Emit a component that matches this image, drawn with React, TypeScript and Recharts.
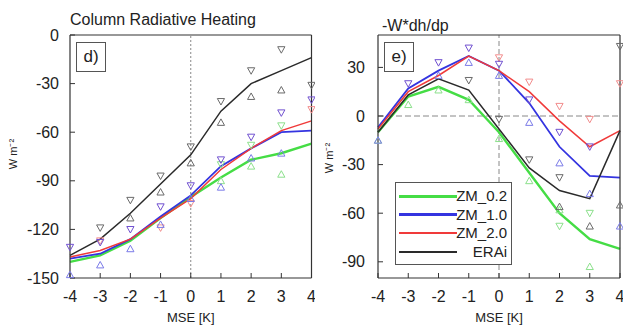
import React from "react"
import {
  LineChart,
  Line,
  XAxis,
  YAxis,
  ReferenceLine,
  Legend
} from "recharts"

// MSE anomaly bins
const mse = [-4, -3, -2, -1, 0, 1, 2, 3, 4]

// d) column radiative heating, W m-2
const radZm02 = [-140, -136, -127, -113, -100, -88, -77, -73, -67]
const radZm10 = [-138, -135, -126, -112, -99, -81, -70, -60, -59]
const radZm20 = [-137, -133, -126, -113, -101, -83, -70, -59, -53]
const radErai = [-136, -126, -110, -92, -74, -47, -30, -22, -14]

// d) spread markers (down / up triangles)
const radEraiDn = [null, -119, -102, -87, -69, -41, -22, -9, -31]
const radEraiUp = [null, null, -113, -97, -79, -54, -38, -34, null]
const radZm10Dn = [-131, -128, -120, -106, -93, -77, -63, -48, -40]
const radZm10Up = [-148, -142, -132, -117, -101, -94, -76, -73, null]
const radZm02Dn = [null, null, null, null, null, -80, -68, -56, null]
const radZm02Up = [null, null, null, null, null, -90, -81, -86, null]
const radZm20Dn = [null, -127, null, -119, -104, null, null, null, -46]

// e) -W*dh/dp, W m-2
const wZm02 = [-10, 12, 18, 10, -10, -35, -60, -76, -82]
const wZm10 = [-7, 17, 28, 37, 28, 8, -19, -37, -38]
const wZm20 = [-8, 15, 25, 37, 28, 15, -3, -19, -9]
const wErai = [-10, 13, 23, 16, -8, -32, -46, -51, -9]

const wEraiDn = [null, null, null, 22, -2, -27, -38, null, 43]
const wEraiUp = [null, null, null, null, null, null, -56, -68, -55]
const wZm10Dn = [null, 20, 33, 42, 32, 10, -10, -19, null]
const wZm10Up = [-15, null, 25, 33, 25, -4, -29, -48, -68]
const wZm20Dn = [null, null, null, null, 36, 21, 6, -2, 20]
const wZm02Dn = [null, null, null, null, null, null, -68, -60, null]
const wZm02Up = [-15, 7, 16, 10, -14, -40, -58, -93, null]

const radTicks = [-150, -120, -90, -60, -30, 0]
const wTicks = [-90, -60, -30, 0, 30]

const legendOrder = ["ZM_0.2", "ZM_1.0", "ZM_2.0", "ERAi"]

const FONT = '"Liberation Sans", Arial, sans-serif'
const INK = "#222"
const FRAME = "#333"

const GREEN = "#45dd45"
const BLUE = "#3434e0"
const RED = "#f03a3a"
const BLACK = "#2a2a2a"

const radRows = mse.map((m, i) => ({
  mse: m,
  zm02: radZm02[i], zm10: radZm10[i], zm20: radZm20[i], erai: radErai[i],
  eDn: radEraiDn[i], eUp: radEraiUp[i],
  bDn: radZm10Dn[i], bUp: radZm10Up[i],
  gDn: radZm02Dn[i], gUp: radZm02Up[i],
  rDn: radZm20Dn[i]
}))

const wRows = mse.map((m, i) => ({
  mse: m,
  zm02: wZm02[i], zm10: wZm10[i], zm20: wZm20[i], erai: wErai[i],
  eDn: wEraiDn[i], eUp: wEraiUp[i],
  bDn: wZm10Dn[i], bUp: wZm10Up[i],
  gDn: wZm02Dn[i], gUp: wZm02Up[i],
  rDn: wZm20Dn[i]
}))

function tri(color: string, down: boolean) {
  return (props: any) => {
    const { cx, cy, value, index } = props
    if (value == null || cx == null || cy == null || isNaN(cy)) return <g key={"t" + index} />
    const s = 3.6
    const d = down
      ? `M${cx - s},${cy - s * 0.8} L${cx + s},${cy - s * 0.8} L${cx},${cy + s} Z`
      : `M${cx - s},${cy + s * 0.8} L${cx + s},${cy + s * 0.8} L${cx},${cy - s} Z`
    return <path key={"t" + index} d={d} fill="none" stroke={color} strokeWidth={1} />
  }
}

function markers() {
  const m = [
    { k: "gDn", c: "#8be08b", d: true },
    { k: "gUp", c: "#8be08b", d: false },
    { k: "rDn", c: "#f28c8c", d: true },
    { k: "bDn", c: "#7050d0", d: true },
    { k: "bUp", c: "#7a7ae8", d: false },
    { k: "eDn", c: "#6a6a6a", d: true },
    { k: "eUp", c: "#6a6a6a", d: false }
  ]
  return m.map(x => (
    <Line
      key={x.k}
      dataKey={x.k}
      stroke="none"
      dot={tri(x.c, x.d)}
      activeDot={false}
      legendType="none"
      isAnimationActive={false}
    />
  ))
}

function series() {
  return [
    <Line key="g" name="ZM_0.2" dataKey="zm02" stroke={GREEN} strokeWidth={2.4} dot={false} isAnimationActive={false} />,
    <Line key="b" name="ZM_1.0" dataKey="zm10" stroke={BLUE} strokeWidth={1.8} dot={false} isAnimationActive={false} />,
    <Line key="r" name="ZM_2.0" dataKey="zm20" stroke={RED} strokeWidth={1.5} dot={false} isAnimationActive={false} />,
    <Line key="k" name="ERAi" dataKey="erai" stroke={BLACK} strokeWidth={1.5} dot={false} isAnimationActive={false} />
  ]
}

const legendWidths: Record<string, number> = { "ZM_0.2": 3, "ZM_1.0": 2.5, "ZM_2.0": 2, "ERAi": 2 }

function LegendBox(props: any) {
  const items = (props.payload || [])
    .filter((p: any) => p.type !== "none" && legendOrder.includes(p.value))
    .sort((a: any, b: any) => legendOrder.indexOf(a.value) - legendOrder.indexOf(b.value))
  return (
    <div style={{ width: 117, height: 83, boxSizing: "border-box", border: "1px solid #555", background: "#fff", paddingTop: 4, fontFamily: FONT }}>
      {items.map((p: any) => (
        <div key={p.value} style={{ height: 18.5, position: "relative" }}>
          <div style={{ position: "absolute", left: 3, width: 58, top: 9 - legendWidths[p.value] / 2, height: legendWidths[p.value], background: p.color }} />
          <div style={{ position: "absolute", right: 4, top: 0, lineHeight: "18.5px", fontSize: 15, color: INK }}>{p.value}</div>
        </div>
      ))}
    </div>
  )
}

const tickStyle = { fontSize: 16, fill: INK, fontFamily: FONT }

function Frame(domain: number[], yTicks: number[], yWidth: number, yMargin: number) {
  return [
    <XAxis key="xb" dataKey="mse" type="number" domain={[-4, 4]} ticks={mse} interval={0}
      height={47} tickSize={-5} tickMargin={18} tick={tickStyle}
      axisLine={{ stroke: FRAME, strokeWidth: 1.2 }} tickLine={{ stroke: FRAME }}
      label={{ value: "MSE [K]", position: "insideBottom", offset: 3, fontSize: 13, fill: INK, fontFamily: FONT }} />,
    <XAxis key="xt" xAxisId="top" orientation="top" dataKey="mse" type="number" domain={[-4, 4]} ticks={mse} interval={0}
      height={1} tickSize={-5} tick={false}
      axisLine={{ stroke: FRAME, strokeWidth: 1.2 }} tickLine={{ stroke: FRAME }} />,
    <YAxis key="yl" type="number" domain={domain} ticks={yTicks} interval={0}
      width={yWidth} tickSize={-5} tickMargin={yMargin} tick={tickStyle}
      axisLine={{ stroke: FRAME, strokeWidth: 1.2 }} tickLine={{ stroke: FRAME }} />,
    <YAxis key="yr" yAxisId="right" orientation="right" type="number" domain={domain} ticks={yTicks} interval={0}
      width={1} tickSize={-5} tick={false}
      axisLine={{ stroke: FRAME, strokeWidth: 1.2 }} tickLine={{ stroke: FRAME }} />
  ]
}

const box = (left: number, text: string) => (
  <div style={{ position: "absolute", left, top: 42, width: 30, height: 30, boxSizing: "border-box", border: "1px solid #555",
    fontFamily: FONT, fontSize: 17, color: INK, lineHeight: "28px", textAlign: "center" }}>{text}</div>
)

const unit = (cx: number, cy: number) => (
  <div style={{ position: "absolute", left: cx - 25, top: cy - 7, width: 50, height: 14, lineHeight: "14px", textAlign: "center",
    transform: "rotate(-90deg)", fontFamily: FONT, fontSize: 11, color: INK }}>W m⁻²</div>
)

export default function App() {
  return (
    <div style={{ position: "absolute", left: 0, top: 0, width: 623, height: 325, background: "#fff", overflow: "hidden" }}>
      <div style={{ position: "absolute", left: 70, top: 11.5, fontFamily: FONT, fontSize: 16, lineHeight: "16px", color: INK }}>
        Column Radiative Heating
      </div>
      <div style={{ position: "absolute", left: 382, top: 17.5, fontFamily: FONT, fontSize: 16, lineHeight: "16px", color: INK }}>
        -W*dh/dp
      </div>

      <div style={{ position: "absolute", left: 0, top: 0 }}>
        <LineChart width={315} height={325} data={radRows} margin={{ top: 34, right: 2.5, bottom: 0, left: 0 }}>
          {Frame([-150, 0], radTicks, 70, 16)}
          <ReferenceLine x={0} stroke="#888" strokeDasharray="2 2" />
          {markers()}
          {series()}
        </LineChart>
      </div>

      <div style={{ position: "absolute", left: 310, top: 0 }}>
        <LineChart width={313} height={325} data={wRows} margin={{ top: 34, right: 2, bottom: 0, left: 0 }}>
          {Frame([-100, 50], wTicks, 68, 18)}
          <ReferenceLine x={0} stroke="#888" strokeDasharray="5 3" />
          <ReferenceLine y={0} stroke="#888" strokeDasharray="6 3" />
          {markers()}
          {series()}
          <Legend layout="vertical" align="center" verticalAlign="middle" content={<LegendBox />}
            wrapperStyle={{ position: "absolute", left: 85, top: 182, width: 117, height: 83 }} />
        </LineChart>
      </div>

      {box(76, "d)")}
      {box(384, "e)")}
      {unit(13, 154)}
      {unit(329, 158)}
    </div>
  )
}
